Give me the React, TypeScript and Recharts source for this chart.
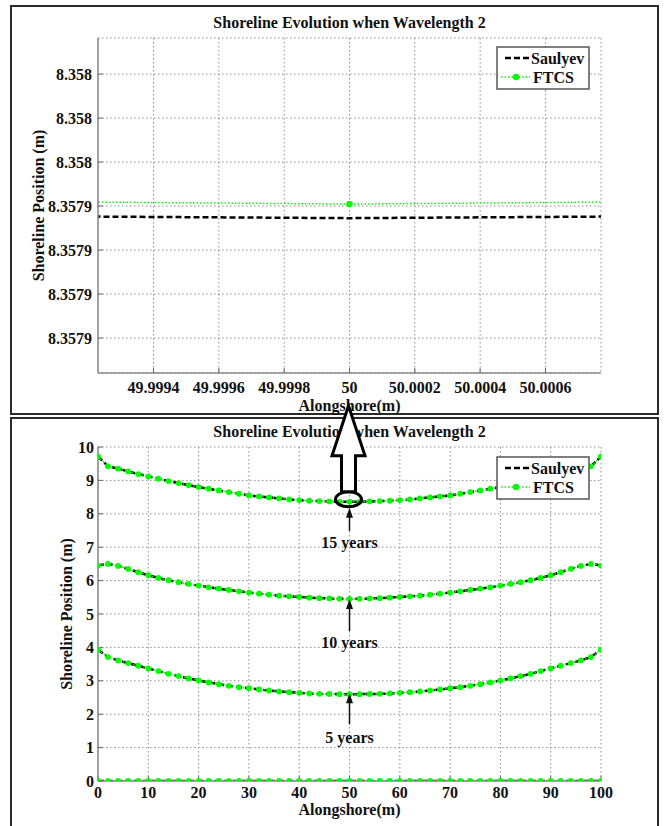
import React from 'react';
import { LineChart, Line, XAxis, YAxis, CartesianGrid, ReferenceDot } from 'recharts';

// ---------- texts ----------
const titleText = 'Shoreline Evolution when Wavelength 2';
const xLabelText = 'Alongshore(m)';
const yLabelText = 'Shoreline Position (m)';
const seriesNames = ['Saulyev', 'FTCS'];
const yearLabels = ['5 years', '10 years', '15 years'];

// ---------- full-domain panel (bottom) ----------
const alongshore = [0, 2, 4, 6, 8, 10, 12, 14, 16, 18, 20, 22, 24, 26, 28, 30, 32, 34, 36, 38, 40, 42, 44, 46, 48, 50,
  52, 54, 56, 58, 60, 62, 64, 66, 68, 70, 72, 74, 76, 78, 80, 82, 84, 86, 88, 90, 92, 94, 96, 98, 100];
const year0 = [0, 0, 0, 0, 0, 0, 0, 0, 0, 0, 0, 0, 0, 0, 0, 0, 0, 0, 0, 0, 0, 0, 0, 0, 0, 0,
  0, 0, 0, 0, 0, 0, 0, 0, 0, 0, 0, 0, 0, 0, 0, 0, 0, 0, 0, 0, 0, 0, 0, 0, 0];
const year5 = [3.93, 3.71, 3.61, 3.53, 3.45, 3.37, 3.29, 3.21, 3.14, 3.07, 3.01, 2.95, 2.9, 2.85, 2.81, 2.78, 2.74, 2.71, 2.68, 2.66, 2.64, 2.62, 2.61, 2.605, 2.6, 2.6,
  2.6, 2.605, 2.61, 2.62, 2.64, 2.66, 2.68, 2.71, 2.74, 2.78, 2.81, 2.85, 2.9, 2.95, 3.01, 3.07, 3.14, 3.21, 3.29, 3.37, 3.45, 3.53, 3.61, 3.71, 3.93];
const year10 = [6.45, 6.5, 6.44, 6.35, 6.25, 6.16, 6.08, 6.01, 5.95, 5.9, 5.85, 5.8, 5.76, 5.72, 5.68, 5.64, 5.61, 5.58, 5.55, 5.53, 5.51, 5.49, 5.475, 5.465, 5.455, 5.45,
  5.455, 5.465, 5.475, 5.49, 5.51, 5.53, 5.55, 5.58, 5.61, 5.64, 5.68, 5.72, 5.76, 5.8, 5.85, 5.9, 5.95, 6.01, 6.08, 6.16, 6.25, 6.35, 6.44, 6.5, 6.45];
const year15 = [9.72, 9.42, 9.35, 9.27, 9.19, 9.12, 9.05, 8.98, 8.92, 8.86, 8.8, 8.75, 8.7, 8.65, 8.6, 8.55, 8.52, 8.49, 8.46, 8.43, 8.41, 8.39, 8.38, 8.37, 8.36, 8.358,
  8.36, 8.37, 8.38, 8.39, 8.41, 8.43, 8.46, 8.49, 8.52, 8.55, 8.6, 8.65, 8.7, 8.75, 8.8, 8.86, 8.92, 8.98, 9.05, 9.12, 9.19, 9.27, 9.35, 9.42, 9.72];
const fullXTicks = [0, 10, 20, 30, 40, 50, 60, 70, 80, 90, 100];
const fullYTicks = [0, 1, 2, 3, 4, 5, 6, 7, 8, 9, 10];

// ---------- zoomed panel (top) ----------
const zoomAlongshore = [48, 50, 52];
const zoomSaulyev = [8.35812945, 8.35794745, 8.35812945];
const zoomFtcs = [8.35818209, 8.35794809, 8.35818209];
const zoomXTicks = [49.9994, 49.9996, 49.9998, 50, 50.0002, 50.0004, 50.0006];
const zoomYTicks = [8.357942, 8.357944, 8.357946, 8.357948, 8.35795, 8.357952, 8.357954];
const zoomXDomain = [49.99923, 50.00077];
const zoomYDomain = [8.35794041, 8.35795564];

// ---------- styles ----------
const FONT = '"Liberation Serif", "Times New Roman", Times, serif';
const GREEN = '#00ff00';
const AXIS_GREY = '#8a8a8a';
const textStyle = { fontFamily: FONT, fontSize: 16, fontWeight: 'bold', fill: '#111' } as const;

const fullRows = alongshore.map((x, i) => ({
  x,
  s0: year0[i], s5: year5[i], s10: year10[i], s15: year15[i],
  f0: year0[i], f5: year5[i], f10: year10[i], f15: year15[i],
}));
const zoomRows = zoomAlongshore.map((x, i) => ({ x, s: zoomSaulyev[i], f: zoomFtcs[i] }));

const fmtZoomX = (v: number) => String(parseFloat(v.toFixed(4)));
const fmtZoomY = (v: number) => String(parseFloat(v.toPrecision(5)));

const saulyevProps = {
  type: 'linear' as const,
  stroke: '#000',
  strokeWidth: 2.5,
  strokeDasharray: '6 3',
  dot: false,
  activeDot: false,
  isAnimationActive: false,
};
const ftcsProps = {
  type: 'linear' as const,
  stroke: GREEN,
  strokeWidth: 1.5,
  strokeDasharray: '1.5 2',
  dot: { r: 2.9, fill: GREEN, stroke: 'none', strokeWidth: 0 },
  activeDot: false,
  isAnimationActive: false,
};

const Title = ({ top }: { top: number }) => (
  <div style={{ position: 'absolute', left: 98, top, width: 503, textAlign: 'center', fontFamily: FONT, fontSize: 16, lineHeight: '16px', fontWeight: 'bold', color: '#111', whiteSpace: 'nowrap' }}>
    {titleText}
  </div>
);

const LegendBox = ({ top }: { top: number }) => (
  <svg style={{ position: 'absolute', left: 496, top: top - 1 }} width={95} height={45}>
    <rect x={1} y={1} width={92} height={42} fill="#fff" stroke="#555" strokeWidth={1.5} />
    <line x1={9} x2={34} y1={12} y2={12} stroke="#000" strokeWidth={2.5} strokeDasharray="6 3" />
    <text x={35} y={12} dominantBaseline="central" style={textStyle}>{seriesNames[0]}</text>
    <line x1={5} x2={34} y1={31} y2={31} stroke={GREEN} strokeWidth={1.5} strokeDasharray="1.5 2" />
    <circle cx={20} cy={31} r={3.2} fill={GREEN} />
    <text x={37} y={31} dominantBaseline="central" style={textStyle}>{seriesNames[1]}</text>
  </svg>
);

const Frame = ({ top, height }: { top: number; height: number }) => (
  <div style={{ position: 'absolute', left: 10, top, width: 649, height, boxSizing: 'border-box', border: '2px solid #2a2a2a' }} />
);

const smallArrow = (label: string, tipOff: number, tailOff: number, textOff: number) => (props: any) => {
  const { cx, cy } = props;
  const tip = cy + tipOff;
  return (
    <g>
      <line x1={cx} y1={cy + tailOff} x2={cx} y2={tip + 8} stroke="#111" strokeWidth={1.5} />
      <polygon points={`${cx},${tip} ${cx - 3.5},${tip + 10} ${cx + 3.5},${tip + 10}`} fill="#111" />
      <text x={cx} y={cy + textOff} textAnchor="middle" dominantBaseline="central" style={textStyle}>{label}</text>
    </g>
  );
};

const bigArrow = (props: any) => {
  const { cy } = props;
  const cx = props.cx - 1;
  const pts = [
    [cx - 7, cy - 10], [cx - 7, cy - 46], [cx - 16.5, cy - 46], [cx, cy - 96],
    [cx + 16.5, cy - 46], [cx + 7, cy - 46], [cx + 7, cy - 10],
  ].map((p) => p.join(',')).join(' ');
  return (
    <g>
      <ellipse cx={cx} cy={cy - 2.5} rx={13} ry={7.5} fill="none" stroke="#000" strokeWidth={3} />
      <polygon points={pts} fill="#fff" stroke="#000" strokeWidth={3} strokeLinejoin="miter" />
    </g>
  );
};

const axisCommon = {
  axisLine: { stroke: AXIS_GREY, strokeWidth: 1.5 },
  tickLine: { stroke: '#666', strokeWidth: 1 },
  tickSize: -5,
  interval: 0 as const,
  allowDataOverflow: true,
};

const gridProps = { strokeDasharray: '1.5 2.5', stroke: '#8c8c8c', strokeWidth: 1 };

export default function App() {
  const mid = 25;
  return (
    <div style={{ position: 'absolute', left: 0, top: 0, width: 664, height: 826, background: '#fff', overflow: 'hidden' }}>
      <style>{'.recharts-surface{overflow:visible}'}</style>
      <Frame top={5} height={410} />
      <Frame top={417} height={420} />
      <Title top={15} />
      <Title top={424} />

      {/* top zoomed chart */}
      <div style={{ position: 'absolute', left: 0, top: 0 }}>
        <LineChart width={664} height={414} data={zoomRows} margin={{ top: 38, right: 63, bottom: 0, left: 38 }}>
          <CartesianGrid {...gridProps} />
          <XAxis dataKey="x" type="number" domain={zoomXDomain} ticks={zoomXTicks} tickFormatter={fmtZoomX}
            height={41} tickMargin={14} tick={textStyle} {...axisCommon}
            label={{ value: xLabelText, position: 'insideTop', offset: 27, style: textStyle }} />
          <XAxis xAxisId="top" orientation="top" dataKey="x" type="number" domain={zoomXDomain} ticks={zoomXTicks}
            height={0} tick={false} {...axisCommon} />
          <YAxis type="number" domain={zoomYDomain} ticks={zoomYTicks} tickFormatter={fmtZoomY}
            width={60} tickMargin={11} tick={textStyle} {...axisCommon}
            label={{ value: yLabelText, angle: -90, position: 'center', dx: -30, style: textStyle }} />
          <YAxis yAxisId="right" orientation="right" type="number" domain={zoomYDomain} ticks={zoomYTicks}
            width={0} tick={false} {...axisCommon} />
          <Line dataKey="s" {...saulyevProps} />
          <Line dataKey="f" {...ftcsProps} dot={{ r: 3.2, fill: GREEN, stroke: 'none', strokeWidth: 0 }} />
        </LineChart>
      </div>
      <LegendBox top={47} />

      {/* bottom full chart */}
      <div style={{ position: 'absolute', left: 0, top: 416 }}>
        <LineChart width={664} height={410} data={fullRows} margin={{ top: 31, right: 63, bottom: 0, left: 38 }}>
          <CartesianGrid {...gridProps} />
          <XAxis dataKey="x" type="number" domain={[0, 100]} ticks={fullXTicks}
            height={45} tickMargin={11} tick={textStyle} {...axisCommon}
            label={{ value: xLabelText, position: 'insideTop', offset: 23, style: textStyle }} />
          <XAxis xAxisId="top" orientation="top" dataKey="x" type="number" domain={[0, 100]} ticks={fullXTicks}
            height={0} tick={false} {...axisCommon} />
          <YAxis type="number" domain={[0, 10]} ticks={fullYTicks}
            width={60} tickMargin={9} tick={textStyle} {...axisCommon}
            label={{ value: yLabelText, angle: -90, position: 'center', dx: -2, style: textStyle }} />
          <YAxis yAxisId="right" orientation="right" type="number" domain={[0, 10]} ticks={fullYTicks}
            width={0} tick={false} {...axisCommon} />
          <Line dataKey="s0" {...saulyevProps} />
          <Line dataKey="s5" {...saulyevProps} />
          <Line dataKey="s10" {...saulyevProps} />
          <Line dataKey="s15" {...saulyevProps} />
          <Line dataKey="f0" {...ftcsProps} />
          <Line dataKey="f5" {...ftcsProps} />
          <Line dataKey="f10" {...ftcsProps} />
          <Line dataKey="f15" {...ftcsProps} />
          <ReferenceDot x={alongshore[mid]} y={year5[mid]} r={0} shape={smallArrow(yearLabels[0], -1, 30, 43)} />
          <ReferenceDot x={alongshore[mid]} y={year10[mid]} r={0} shape={smallArrow(yearLabels[1], 0, 32, 44)} />
          <ReferenceDot x={alongshore[mid]} y={year15[mid]} r={0} shape={smallArrow(yearLabels[2], 6, 29, 41)} />
          <ReferenceDot x={alongshore[mid]} y={year15[mid]} r={0} shape={bigArrow} />
        </LineChart>
      </div>
      <LegendBox top={457} />
    </div>
  );
}
